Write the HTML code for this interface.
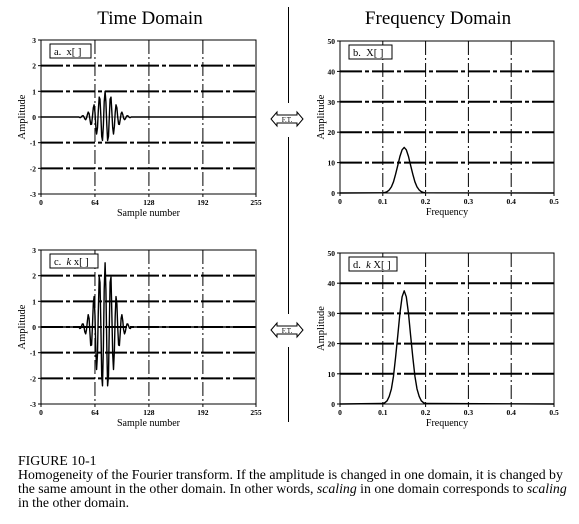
<!DOCTYPE html>
<html><head><meta charset="utf-8">
<style>
html,body{margin:0;padding:0;background:#fff;}
body{width:579px;height:519px;overflow:hidden;font-family:"Liberation Serif",serif;}
svg text{font-family:"Liberation Serif",serif;}
</style></head>
<body>
<svg id="fig" width="579" height="519" viewBox="0 0 579 519" xmlns="http://www.w3.org/2000/svg">
<text x="150" y="24" font-size="19" text-anchor="middle">Time Domain</text>
<text x="438" y="24" font-size="19" text-anchor="middle">Frequency Domain</text>
<g stroke="#000" stroke-width="1">
<line x1="288.5" y1="7" x2="288.5" y2="103"/><line x1="288.5" y1="137" x2="288.5" y2="314"/><line x1="288.5" y1="347" x2="288.5" y2="422"/>
</g>
<g>
<path d="M271,119 L277,112 L277,115 L297,115 L297,112 L303,119 L297,126 L297,123 L277,123 L277,126 Z" fill="#fff" stroke="#000" stroke-width="1"/>
<text x="287" y="122" font-size="7" text-anchor="middle">F.T.</text></g>
<g>
<path d="M271,330 L277,323 L277,326 L297,326 L297,323 L303,330 L297,337 L297,334 L277,334 L277,337 Z" fill="#fff" stroke="#000" stroke-width="1"/>
<text x="287" y="333" font-size="7" text-anchor="middle">F.T.</text></g>
<g id="plots"></g>
<g font-size="13.8">
<text x="18" y="465">FIGURE 10-1</text>
<text x="18" y="479">Homogeneity of the Fourier transform.  If the amplitude is changed in one domain, it is changed by</text>
<text x="18" y="493">the same amount in the other domain.  In other words, <tspan font-style="italic">scaling</tspan> in one domain corresponds to <tspan font-style="italic">scaling</tspan></text>
<text x="18" y="507">in the other domain.</text>
</g>
</svg>
<script>
// time-domain signal x[n], starting at sample 46
const timeStart = 46;
const timeValues = [-.024,-.018,.012,.047,.049,0,-.075,-.107,-.042,.095,.191,.132,-.081,-.288,-.281,0,.360,.474,.171,-.357,-.662,-.421,.237,.777,.697,0,-.757,-.917,-.304,.586,1.00,.586,-.304,-.917,-.757,0,.697,.777,.237,-.421,-.662,-.357,.171,.474,.360,0,-.281,-.288,-.081,.132,.191,.095,-.042,-.107,-.075,0,.049,.047,.012,-.018,-.024];
// frequency magnitude X[f], frequencies 0.10..0.20 step 0.005
const freqStart = 0.10;
const freqStep = 0.005;
const freqValues = [0.06,0.17,0.42,1.0,2.0,3.7,6.2,9.1,12.0,14.2,15,14.2,12.0,9.1,6.2,3.7,2.0,1.0,0.42,0.17,0.06];
const kScale = 2.5;
const timeTicks = ["0","64","128","192","255"];
const timeTickVals = [0,64,128,192,255];
const ampTicks = [-3,-2,-1,0,1,2,3];
const freqTicks = [0,0.1,0.2,0.3,0.4,0.5];
const freqTickLabels = ["0","0.1","0.2","0.3","0.4","0.5"];
const magTicks = [0,10,20,30,40,50];

const NS="http://www.w3.org/2000/svg";
const root=document.getElementById('plots');
function mk(tag,attrs,parent){const e=document.createElementNS(NS,tag);for(const k in attrs)e.setAttribute(k,attrs[k]);(parent||root).appendChild(e);return e;}

function panel(opt){
  const g=mk('g',{});
  
  
  const {x0,x1,y0,y1,xmin,xmax,ymin,ymax}=opt;
  const sx=v=>x0+(v-xmin)/(xmax-xmin)*(x1-x0);
  const sy=v=>y1-(v-ymin)/(ymax-ymin)*(y1-y0);
  opt.xTicks.forEach(v=>{ if(v>xmin&&v<xmax){const l=mk('line',{x1:sx(v),x2:sx(v),y1:y0,y2:y1,stroke:'#000','stroke-width':1,'stroke-dasharray':'14,3,2,3'},g);
    
    }});
  opt.yTicks.forEach(v=>{ if(v>ymin&&v<ymax){
    const zero=(v===0);
    const l=mk('line',{x1:x0,x2:x1,y1:sy(v),y2:sy(v),stroke:zero&&opt.grayZero?'#888':'#000','stroke-width':zero&&opt.grayZero?1:2,'stroke-dasharray':zero&&opt.grayZero?'':'22,3,4,3'},g);
    
    }});
  const fr=mk('rect',{x:x0,y:y0,width:x1-x0,height:y1-y0,fill:'none',stroke:'#000','stroke-width':1},g);
  
  
  opt.xTicks.forEach((v,i)=>{mk('line',{x1:sx(v),x2:sx(v),y1:y1,y2:y1+3,stroke:'#000'},g);
    const t=mk('text',{x:sx(v),y:y1+11,'font-size':7.5,'text-anchor':'middle','font-weight':'bold'},g);t.textContent=opt.xLabels[i];
    
    });
  opt.yTicks.forEach(v=>{mk('line',{x1:x0-3,x2:x0,y1:sy(v),y2:sy(v),stroke:'#000'},g);
    const t=mk('text',{x:x0-5,y:sy(v)+3,'font-size':7.5,'text-anchor':'end','font-weight':'bold'},g);t.textContent=String(v);
    
    });
  if(opt.xTitle){const t=mk('text',{x:(x0+x1)/2,y:y1+22,'font-size':10,'text-anchor':'middle'},g);t.textContent=opt.xTitle;
    
    }
  const yt=mk('text',{x:0,y:0,'font-size':10.5,'text-anchor':'middle',transform:`translate(${opt.yTitleX},${(y0+y1)/2}) rotate(-90)`},g);yt.textContent='Amplitude';
  
  
  const lg=mk('g',{},g);
  
  
  mk('rect',{x:x0+9,y:y0+4,width:opt.legW,height:14,fill:'#fff',stroke:'#000'},lg);
  const lt=mk('text',{x:x0+13,y:y0+15,'font-size':10.5},lg);lt.innerHTML=opt.legend;
  let pts=[];
  if(opt.type==='time'){
    for(let n=0;n<=255;n++){const i=n-timeStart;const v=(i>=0&&i<timeValues.length)?timeValues[i]*opt.k:0;pts.push([sx(n),sy(v)]);}
  } else {
    pts.push([sx(0),sy(0)]);
    freqValues.forEach((v,i)=>pts.push([sx(freqStart+i*freqStep),sy(v*opt.k)]));
    pts.push([sx(0.5),sy(0)]);
  }
  const p=mk('polyline',{points:pts.map(p=>p[0].toFixed(1)+','+p[1].toFixed(1)).join(' '),fill:'none',stroke:'#000','stroke-width':1.4,'stroke-linejoin':'round'},g);
  
  
}
const T={xmin:0,xmax:255,ymin:-3,ymax:3,xTicks:timeTickVals,xLabels:timeTicks,yTicks:ampTicks,type:'time',x0:41,x1:256,yTitleX:25};
const F={xmin:0,xmax:0.5,ymin:0,ymax:50,xTicks:freqTicks,xLabels:freqTickLabels,yTicks:magTicks,type:'freq',x0:340,x1:554,yTitleX:324,grayZero:false};
panel(Object.assign({},T,{name:'plot-a-time',y0:40,y1:194,k:1,grayZero:true,legend:'a.&#160; x[ ]',legW:41,xTitle:'Sample number'}));
panel(Object.assign({},T,{name:'plot-c-time-scaled',y0:250,y1:404,k:kScale,grayZero:false,legend:'c.&#160; <tspan font-style="italic">k</tspan> x[ ]',legW:48,xTitle:'Sample number'}));
panel(Object.assign({},F,{name:'plot-b-frequency',y0:41,y1:193,k:1,legend:'b.&#160; X[ ]',legW:43,xTitle:'Frequency'}));
panel(Object.assign({},F,{name:'plot-d-frequency-scaled',y0:253,y1:404,k:kScale,legend:'d.&#160; <tspan font-style="italic">k</tspan> X[ ]',legW:48,xTitle:'Frequency'}));
</script>
</body></html>
